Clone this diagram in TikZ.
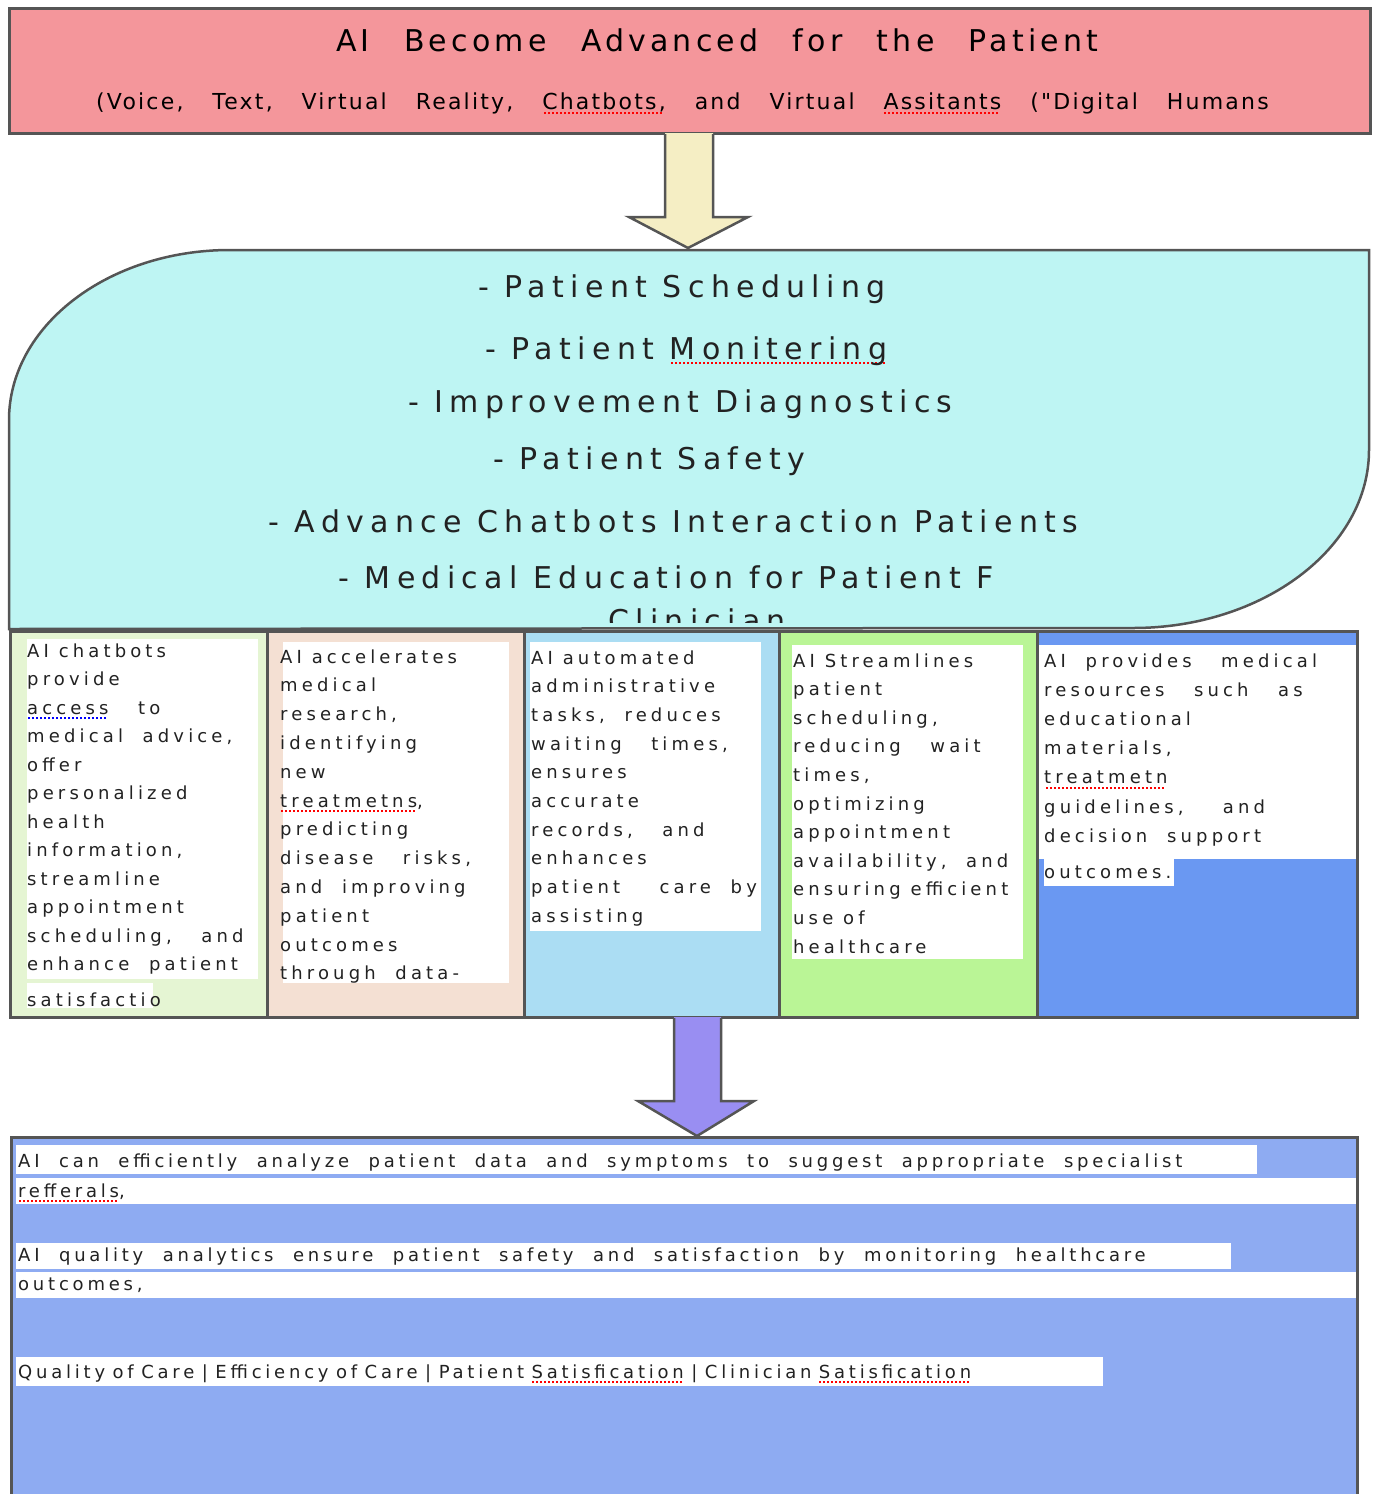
\documentclass[tikz,border=0pt]{standalone}
\usepackage{fontspec}
\setmainfont{DejaVu Sans}
\newfontfamily\titlef[LetterSpace=14,WordSpace=2.5]{DejaVu Sans}
\newfontfamily\subf[LetterSpace=10,WordSpace=3.15]{DejaVu Sans}
\newfontfamily\itemf[LetterSpace=21,WordSpace=2.4]{DejaVu Sans}
\newfontfamily\cellf[LetterSpace=23]{DejaVu Sans}
\newfontfamily\botf[LetterSpace=21]{DejaVu Sans}
\newcommand\botsetA{\botf\fontsize{18}{22}\selectfont\spaceskip 19.5pt\relax\xspaceskip 19.5pt\relax}
\newcommand\botsetB{\botf\fontsize{18}{22}\selectfont\spaceskip 7.5pt\relax\xspaceskip 7.5pt\relax}
\definecolor{bord}{HTML}{555555}
\definecolor{pinkf}{HTML}{F4969B}
\definecolor{creamf}{HTML}{F5EEC4}
\definecolor{cyanf}{HTML}{BEF5F3}
\definecolor{cA}{HTML}{E5F5D3}
\definecolor{cB}{HTML}{F4E0D3}
\definecolor{cC}{HTML}{ABDDF3}
\definecolor{cD}{HTML}{BAF596}
\definecolor{cE}{HTML}{6A98F2}
\definecolor{purpf}{HTML}{998EF2}
\definecolor{botfill}{HTML}{8EABF2}
\definecolor{txt}{HTML}{222222}
\newcommand\squig[2]{\setbox0\hbox{#2}\rlap{\color{#1}\cleaders\hbox{\rule[-5pt]{2pt}{2pt}\kern2pt}\hskip\wd0\relax}\box0\relax}
\newcommand\redsq[1]{\squig{red}{#1}}
\newcommand\bluesq[1]{\squig{blue}{#1}}
\tikzset{
  boxline/.style={draw=bord, line width=3pt},
  arrowline/.style={draw=bord, line width=2.5pt, line join=miter},
  titlet/.style={anchor=base west, inner sep=0pt, text=black, font=\titlef\fontsize{30}{36}\selectfont},
  subt/.style={anchor=base west, inner sep=0pt, text=black, font=\subf\fontsize{22}{26}\selectfont},
  itemt/.style={anchor=base west, inner sep=0pt, text=txt, font=\itemf\fontsize{30}{36}\selectfont},
  cellt/.style={anchor=base west, inner sep=0pt, text=txt, font=\cellf\fontsize{18}{22}\selectfont},
  bott/.style={anchor=base west, inner sep=0pt, text=txt, font=\botsetA},
  bottq/.style={anchor=base west, inner sep=0pt, text=txt, font=\botsetB},
}
\begin{document}
\begin{tikzpicture}[x=1pt,y=-1pt]
\useasboundingbox (0,0) rectangle (1374,1494);

% ---------- top box ----------
\fill[pinkf] (9,8) rectangle (1370,133);
\draw[boxline] (9,8) rectangle (1370,133);
\node[titlet] (title) at (336,51) {AI Become Advanced for the Patient};
\node[subt] (subtitle) at (96,109) {(Voice, Text, Virtual Reality, \redsq{Chatbots,} and Virtual \redsq{Assitants} ("Digital Humans};

% ---------- arrow 1 ----------
\fill[creamf] (665,133) -- (665,217) -- (629,217) -- (688,248) -- (748,217) -- (713,217) -- (713,133) -- cycle;
\draw[arrowline] (665,134) -- (665,217) -- (629,217) -- (688,248) -- (748,217) -- (713,217) -- (713,134);

% ---------- cyan shape ----------
\filldraw[fill=cyanf, draw=bord, line width=2.5pt]
  (9,629) -- (9,420) .. controls (9,326) and (108,250) .. (230,250)
  -- (1369,250) -- (1369,450) .. controls (1369,548) and (1263,628) .. (1133,628) -- cycle;
\begin{scope}
\clip (0,250) rectangle (1374,622);
\node[itemt] (i1) at (478,297) {- Patient Scheduling};
\node[itemt] (i2) at (485,359) {- Patient \redsq{Monitering}};
\node[itemt] (i3) at (408,412) {- Improvement Diagnostics};
\node[itemt] (i4) at (493,469) {- Patient Safety};
\node[itemt] (i5) at (268,532) {- Advance Chatbots Interaction Patients};
\node[itemt] (i6) at (338,588) {- Medical Education for Patient F};
\node[itemt, anchor=base] (i7) at (697,631) {Clinician};
\end{scope}

% ---------- five cells ----------
\fill[cA] (10,631) rectangle (267,1017);
\fill[cB] (267,631) rectangle (524,1017);
\fill[cC] (524,631) rectangle (779,1017);
\fill[cD] (779,631) rectangle (1037,1017);
\fill[cE] (1037,631) rectangle (1357,1017);
\fill[white] (27,639) rectangle (258,979);
\fill[white] (27,983) rectangle (153,1008);
\fill[white] (283,642) rectangle (509,983);
\fill[white] (530,642) rectangle (761,931);
\fill[white] (792,645) rectangle (1023,959);
\fill[white] (1037,645) rectangle (1357,859);
\fill[white] (1044,859) rectangle (1174,886);

\foreach \t [count=\i from 0] in {{AI chatbots},{provide},{\bluesq{access}\ \ \ to},{medical\ \ advice,},{offer},{personalized},{health},{information,},{streamline},{appointment},{scheduling,\ \ \ and},{enhance\ \ patient}}
  \node[cellt] (ca\i) at (27,657+28.5*\i) {\t};
\node[cellt] (ca12) at (27,1006) {satisfactio};

\foreach \t [count=\i from 0] in {{AI accelerates},{medical},{research,},{identifying},{new},{\redsq{treatmetns},},{predicting},{disease\ \ \ risks,},{and\ \ improving},{patient},{outcomes},{through\ \ data-}}
  \node[cellt] (cb\i) at (280,663+28.8*\i) {\t};

\foreach \t [count=\i from 0] in {{AI automated},{administrative},{tasks,\ \ reduces},{waiting\ \ \ times,},{ensures},{accurate},{records,\ \ \ and},{enhances},{patient\ \ \ \ care\ \ by},{assisting}}
  \node[cellt] (cc\i) at (531,664+28.7*\i) {\t};

\foreach \t [count=\i from 0] in {{AI Streamlines},{patient},{scheduling,},{reducing\ \ \ wait},{times,},{optimizing},{appointment},{availability,\ \ and},{ensuring\ efficient},{use of},{healthcare}}
  \node[cellt] (cd\i) at (793,667+28.6*\i) {\t};

\foreach \t [count=\i from 0] in {{AI\ \ provides\ \ \ medical},{resources\ \ \ such\ \ \ as},{educational},{materials,},{\redsq{treatmetn}},{guidelines,\ \ \ \ and},{decision\ \ support}}
  \node[cellt] (ce\i) at (1044,667+29.2*\i) {\t};
\node[cellt] (ce7) at (1044,878) {outcomes.};

\draw[boxline] (10,631) rectangle (1357,1017);
\foreach \xx in {267,524,779,1037} \draw[boxline] (\xx,631) -- (\xx,1017);

% ---------- arrow 2 ----------
\fill[purpf] (674,1017) -- (674,1101) -- (638,1101) -- (697,1136) -- (754,1101) -- (721,1101) -- (721,1017) -- cycle;
\draw[arrowline] (674,1018) -- (674,1101) -- (638,1101) -- (697,1136) -- (754,1101) -- (721,1101) -- (721,1018);

% ---------- bottom box ----------
\fill[botfill] (11,1137) rectangle (1357,1500);
\fill[white] (16,1145) rectangle (1257,1174);
\fill[white] (16,1178) rectangle (1356,1204);
\fill[white] (16,1243) rectangle (1231,1269);
\fill[white] (16,1272) rectangle (1356,1298);
\fill[white] (16,1357) rectangle (1103,1386);
\node[bott] (b1) at (18,1167) {AI can efficiently analyze patient data and symptoms to suggest appropriate specialist};
\node[bott] (b2) at (18,1197) {\redsq{refferals},};
\node[bott] (b3) at (18,1261) {AI quality analytics ensure patient safety and satisfaction by monitoring healthcare};
\node[bott] (b4) at (18,1290) {outcomes,};
\node[bottq] (b5) at (18,1378) {Quality of Care | Efficiency of Care | Patient \redsq{Satisfication} | Clinician \redsq{Satisfication}};
\draw[boxline] (11,1500) -- (11,1137) -- (1357,1137) -- (1357,1500);
\end{tikzpicture}
\end{document}
